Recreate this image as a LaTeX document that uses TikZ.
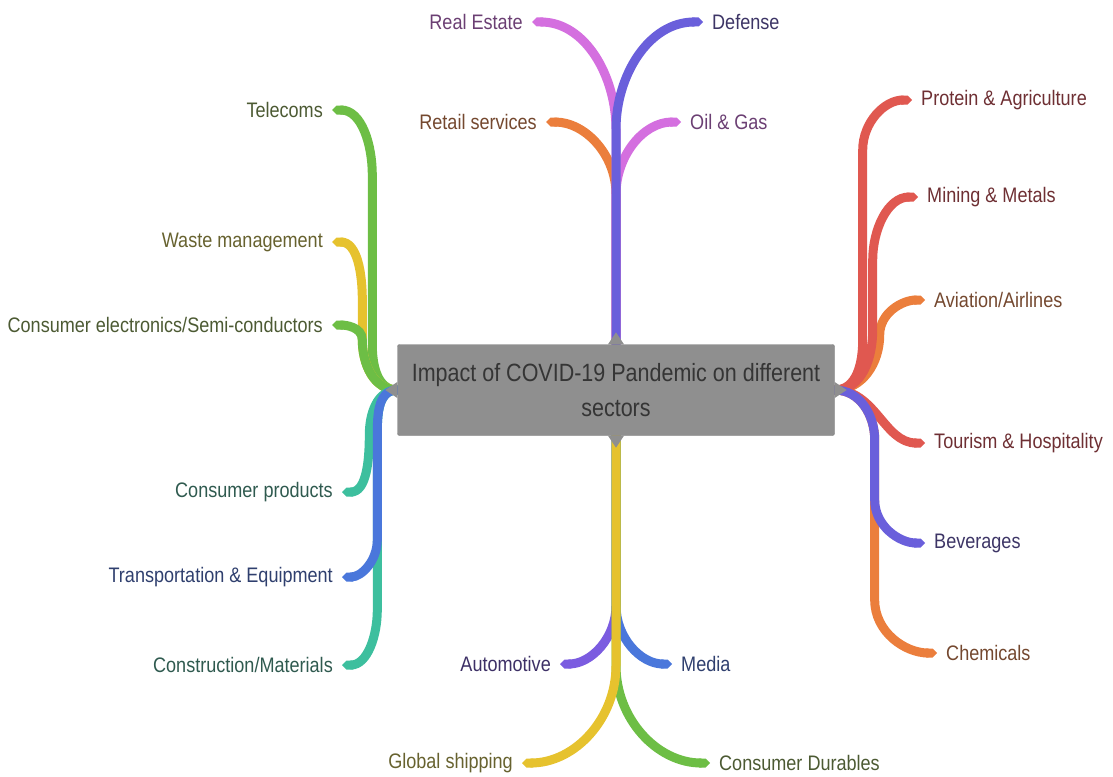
\documentclass[tikz,border=0pt]{standalone}
\usepackage{fontspec}
\setmainfont{Liberation Sans}[FakeStretch=0.86]
\usetikzlibrary{arrows.meta, backgrounds}

% branch colours and their darker label colours
\definecolor{hubgray}{HTML}{8F8F8F}
\definecolor{hubedge}{HTML}{7C7C7C}
\definecolor{hubtext}{HTML}{353535}
\definecolor{pinkb}{HTML}{D46FDF}
\definecolor{pinktxt}{HTML}{6B3F73}
\definecolor{indigob}{HTML}{6A5FDB}
\definecolor{indigotxt}{HTML}{3D3566}
\definecolor{orangeb}{HTML}{EB7E3C}
\definecolor{orangetxt}{HTML}{74482F}
\definecolor{redb}{HTML}{E05850}
\definecolor{redtxt}{HTML}{6E2F33}
\definecolor{greenb}{HTML}{6DBE45}
\definecolor{greentxt}{HTML}{4C5A33}
\definecolor{yellowb}{HTML}{E6C22E}
\definecolor{yellowtxt}{HTML}{67622F}
\definecolor{tealb}{HTML}{3DBF9E}
\definecolor{tealtxt}{HTML}{2F5A4F}
\definecolor{blueb}{HTML}{4A77DB}
\definecolor{bluetxt}{HTML}{2F3F6E}
\definecolor{violetb}{HTML}{7B5CE0}
\definecolor{violettxt}{HTML}{3D3066}

\begin{document}
\begin{tikzpicture}[
    x=1pt, y=-1pt,
    every node/.style={font=\fontsize{21}{25}\selectfont},
    hub/.style={draw=hubedge, fill=hubgray, rounded corners=2pt, align=center,
                text=hubtext, minimum width=437pt, minimum height=91pt,
                font=\fontsize{25}{35}\selectfont},
    tag/.style={inner xsep=9pt, inner ysep=2pt},
    limb/.style={line width=9pt, line cap=round, -{Triangle Cap[]}}
]
    \useasboundingbox (0,0) rectangle (1113,776);

    \node[hub] (hub) at (616,390) {Impact of COVID-19 Pandemic on different\\sectors};
    % little pointers on the four sides of the hub
    \fill[hubgray] ([xshift=-8pt]hub.north) -- ([yshift=12pt]hub.north) -- ([xshift=8pt]hub.north) -- cycle;
    \fill[hubgray] ([xshift=-8pt]hub.south) -- ([yshift=-12pt]hub.south) -- ([xshift=8pt]hub.south) -- cycle;
    \fill[hubgray] ([yshift=8pt]hub.west) -- ([xshift=-12pt]hub.west) -- ([yshift=-8pt]hub.west) -- cycle;
    \fill[hubgray] ([yshift=8pt]hub.east) -- ([xshift=12pt]hub.east) -- ([yshift=-8pt]hub.east) -- cycle;

    % top
    \node[tag, anchor=east, text=pinktxt] (realest) at (532,22) {Real Estate};
    \node[tag, anchor=west, text=indigotxt] (defense) at (703,22) {Defense};
    \node[tag, anchor=east, text=orangetxt] (retail) at (546,122) {Retail services};
    \node[tag, anchor=west, text=pinktxt] (oilgas) at (681,122) {Oil \& Gas};

    % right
    \node[tag, anchor=west, text=redtxt] (protein) at (912,100) {Protein \& Agriculture};
    \node[tag, anchor=west, text=redtxt] (mining) at (918,197) {Mining \& Metals};
    \node[tag, anchor=west, text=orangetxt] (aviation) at (925,300) {Aviation/Airlines};
    \node[tag, anchor=west, text=redtxt] (tourism) at (925,443) {Tourism \& Hospitality};
    \node[tag, anchor=west, text=indigotxt] (bever) at (925,543) {Beverages};
    \node[tag, anchor=west, text=orangetxt] (chem) at (937,653) {Chemicals};

    % left
    \node[tag, anchor=east, text=greentxt] (telecom) at (332,110) {Telecoms};
    \node[tag, anchor=east, text=yellowtxt] (waste) at (332,242) {Waste management};
    \node[tag, anchor=east, text=greentxt] (elec) at (332,325) {Consumer electronics/Semi-conductors};
    \node[tag, anchor=east, text=tealtxt] (prod) at (342,492) {Consumer products};
    \node[tag, anchor=east, text=bluetxt] (transp) at (342,577) {Transportation \& Equipment};
    \node[tag, anchor=east, text=tealtxt] (constr) at (342,665) {Construction/Materials};

    % bottom
    \node[tag, anchor=east, text=violettxt] (auto) at (560,664) {Automotive};
    \node[tag, anchor=west, text=bluetxt] (media) at (672,664) {Media};
    \node[tag, anchor=east, text=yellowtxt] (ship) at (522,763) {Global shipping};
    \node[tag, anchor=west, text=greentxt] (durable) at (710,763) {Consumer Durables};

    \begin{scope}[on background layer]
        % top branches
        \draw[limb, orangeb] (hub.north) -- ++(0,-150) to[out=90,in=0] (retail.east);
        \draw[limb, pinkb] (hub.north) -- ++(0,-150) to[out=90,in=180] (oilgas.west);
        \draw[limb, pinkb] (hub.north) -- ++(0,-215) to[out=90,in=0] (realest.east);
        \draw[limb, indigob] (hub.north) -- ++(0,-215) to[out=90,in=180] (defense.west);

        % right branches
        \draw[limb, orangeb] (hub.east) to[out=0,in=90] ++(40,50) -- ++(0,160) to[out=-90,in=180] (chem.west);
        \draw[limb, orangeb] (hub.east) to[out=0,in=-90] ++(45,-55) to[out=90,in=180] (aviation.west);
        \draw[limb, redb] (hub.east) to[out=0,in=-90] ++(38,-60) -- ++(0,-70) to[out=90,in=180] (mining.west);
        \draw[limb, redb] (hub.east) to[out=0,in=-90] ++(28,-50) -- ++(0,-190) to[out=90,in=180] (protein.west);
        \draw[limb, redb] (hub.east) to[out=0,in=180] (tourism.west);
        \draw[limb, indigob] (hub.east) to[out=0,in=90] ++(40,50) -- ++(0,60) to[out=-90,in=180] (bever.west);

        % left branches
        \draw[limb, greenb] (hub.west) to[out=180,in=-90] ++(-25,-45) -- ++(0,-170) to[out=90,in=0] (telecom.east);
        \draw[limb, yellowb] (hub.west) to[out=180,in=-90] ++(-35,-50) -- ++(0,-40) to[out=90,in=0] (waste.east);
        \draw[limb, greenb] (hub.west) to[out=180,in=-90] ++(-35,-50) to[out=90,in=0] (elec.east);
        \draw[limb, tealb] (hub.west) to[out=180,in=90] ++(-20,50) -- ++(0,170) to[out=-90,in=0] (constr.east);
        \draw[limb, tealb] (hub.west) to[out=180,in=90] ++(-28,45) to[out=-90,in=0] (prod.east);
        \draw[limb, blueb] (hub.west) to[out=180,in=90] ++(-20,50) -- ++(0,100) to[out=-90,in=0] (transp.east);

        % bottom branches
        \draw[limb, violetb] (hub.south) -- ++(0,170) to[out=-90,in=0] (auto.east);
        \draw[limb, blueb] (hub.south) -- ++(0,170) to[out=-90,in=180] (media.west);
        \draw[limb, greenb] (hub.south) -- ++(0,230) to[out=-90,in=180] (durable.west);
        \draw[limb, yellowb] (hub.south) -- ++(0,230) to[out=-90,in=0] (ship.east);
    \end{scope}
\end{tikzpicture}
\end{document}
